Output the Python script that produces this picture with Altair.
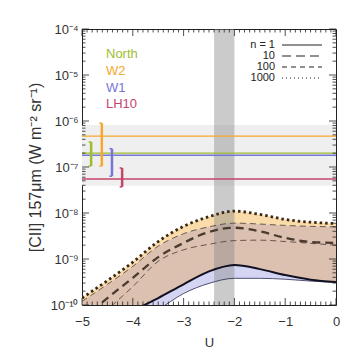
import altair as alt
import pandas as pd

# ---------------- data ----------------
U = [-5.0, -4.5, -4.0, -3.5, -3.0, -2.5, -2.0, -1.5, -1.0, -0.5, 0.0]
# log10 of [CII] intensity for model curves
top_dotted = [-9.85, -9.47, -9.07, -8.62, -8.29, -8.08, -7.96, -8.03, -8.14, -8.20, -8.23]
thin_upper = [-9.92, -9.55, -9.16, -8.72, -8.45, -8.30, -8.22, -8.24, -8.27, -8.29, -8.30]
thick_dash = [-10.30, -9.85, -9.41, -8.96, -8.65, -8.41, -8.32, -8.40, -8.54, -8.63, -8.65]
thin_dash = [-10.60, -10.10, -9.60, -9.05, -8.80, -8.68, -8.60, -8.59, -8.62, -8.66, -8.70]
thick_solid = [-10.90, -10.50, -10.13, -9.85, -9.55, -9.27, -9.13, -9.22, -9.35, -9.45, -9.50]
thin_solid = [-11.20, -10.80, -10.40, -10.10, -9.75, -9.53, -9.42, -9.42, -9.44, -9.48, -9.51]

regions = ["North", "W2", "W1", "LH10"]
region_colors = ["#9dbd2e", "#f7a72e", "#7676d6", "#c4456a"]
obs_value = [2.0e-7, 4.7e-7, 1.8e-7, 5.5e-8]
bar_U = [-4.82, -4.61, -4.41, -4.21]
bar_low = [1.05e-7, 1.05e-7, 6.3e-8, 3.7e-8]
bar_high = [3.5e-7, 9.0e-7, 2.5e-7, 9.5e-8]

obs_band = [3.9e-8, 8.2e-7]
U_band = [-2.4, -2.0]

n_labels = ["n = 1", "10", "100", "1000"]

x_major = [-5, -4, -3, -2, -1, 0]
y_major_exp = [-10, -9, -8, -7, -6, -5, -4]

# ---------------- layout ----------------
W, H = 254, 276
FONT = "Liberation Sans"

xs = alt.Scale(domain=[-5, 0], nice=False, zero=False)
ys = alt.Scale(type="log", domain=[1e-10, 1e-4], nice=False)

curves = pd.DataFrame({
    "U": U,
    "top": [10 ** v for v in top_dotted],
    "tu": [10 ** v for v in thin_upper],
    "td": [10 ** v for v in thick_dash],
    "ld": [10 ** v for v in thin_dash],
    "ts": [10 ** v for v in thick_solid],
    "ls": [10 ** v for v in thin_solid],
})

base = alt.Chart(curves)
X = alt.X("U:Q", scale=xs, axis=alt.Axis(
    values=x_major, ticks=False, tickSize=0, domain=False, grid=False, labelFlush=False,
    labelFont=FONT, labelFontSize=13, labelColor="#333", labelPadding=10,
    labelExpr="datum.value == 0 ? '0' : '\u2212' + abs(datum.value)",
    title="U", titleFont=FONT, titleFontSize=13, titleFontWeight="normal",
    titleColor="#333", titlePadding=8))
Y_axis = alt.Axis(
    values=[10.0 ** e for e in y_major_exp], ticks=False, tickSize=0, domain=False, grid=False,
    labelFlush=False,
    labelFont=FONT, labelFontSize=13, labelColor="#333", labelPadding=4,
    labelExpr="'10' + replace(replace(replace(replace(replace(replace(replace(replace('-' + format(-round(log(datum.value)/LN10), 'd'), '-', '\u207b'), '10', '\u00b9\u2070'), '4', '\u2074'), '5', '\u2075'), '6', '\u2076'), '7', '\u2077'), '8', '\u2078'), '9', '\u2079')",
    title="[CII] 157\u03bcm (W m\u207b\u00b2 sr\u207b\u00b9)", titleFont=FONT, titleFontSize=16,
    titleFontWeight="normal", titleColor="#333", titlePadding=7)

# background horizontal band
hband = alt.Chart(pd.DataFrame({"lo": [obs_band[0]], "hi": [obs_band[1]]})).mark_rect(
    color="#efefef").encode(x=alt.value(0), x2=alt.value(W),
                            y=alt.Y("hi:Q", scale=ys, axis=Y_axis), y2="lo:Q")

area_kw = dict(interpolate="monotone", clip=True)
orange = base.mark_area(color="#f9dcaa", **area_kw).encode(
    x=X, y=alt.Y("top:Q", scale=ys), y2="tu:Q")
brown = base.mark_area(color="#dcc0b0", **area_kw).encode(
    x="U:Q", y=alt.Y("tu:Q", scale=ys), y2="ts:Q")
blue = base.mark_area(color="#d3d5f2", **area_kw).encode(
    x="U:Q", y=alt.Y("ts:Q", scale=ys), y2="ls:Q")

vband = alt.Chart(pd.DataFrame({"a": [U_band[0]], "b": [U_band[1]]})).mark_rect(
    color="#8c8c8c", opacity=0.45).encode(
    x=alt.X("a:Q", scale=xs), x2="b:Q", y=alt.value(0), y2=alt.value(H))

def line(field, color, width, dash=None):
    kw = dict(color=color, strokeWidth=width, interpolate="monotone", clip=True)
    if dash:
        kw["strokeDash"] = dash
    return base.mark_line(**kw).encode(x="U:Q", y=alt.Y(f"{field}:Q", scale=ys))

lines = [
    line("ls", "#2a2a50", 0.8),
    line("ts", "#111122", 2.0),
    line("ld", "#4a3a30", 0.8, [6, 4]),
    line("td", "#4a3a30", 2.3, [8, 5]),
    line("tu", "#4a3a30", 0.8, [6, 4]),
    line("top", "#3a2810", 2.8, [2.5, 3]),
]

obs = pd.DataFrame({"region": regions, "val": obs_value, "U": bar_U,
                    "lo": bar_low, "hi": bar_high, "color": region_colors})
hlines = alt.Chart(obs).mark_rule(strokeWidth=1.4).encode(
    y=alt.Y("val:Q", scale=ys), color=alt.Color("color:N", scale=None))
bars = alt.Chart(obs).mark_rule(strokeWidth=2.5).encode(
    x=alt.X("U:Q", scale=xs), y=alt.Y("hi:Q", scale=ys), y2="lo:Q",
    color=alt.Color("color:N", scale=None))
caps_hi = alt.Chart(obs).mark_rule(strokeWidth=1.5, x2Offset=-2.5).encode(
    x=alt.X("U:Q", scale=xs), x2="U:Q", y=alt.Y("hi:Q", scale=ys),
    color=alt.Color("color:N", scale=None))
caps_lo = alt.Chart(obs).mark_rule(strokeWidth=1.5, x2Offset=-2.5).encode(
    x=alt.X("U:Q", scale=xs), x2="U:Q", y=alt.Y("lo:Q", scale=ys),
    color=alt.Color("color:N", scale=None))

# region legend (top-left)
leg_layers = []
for i, (r, c) in enumerate(zip(regions, region_colors)):
    leg_layers.append(alt.Chart(pd.DataFrame({"t": [r]})).mark_text(
        align="left", baseline="middle", font=FONT, fontSize=13, color=c).encode(
        text="t:N", x=alt.value(24), y=alt.value(25 + 16.8 * i)))

# n legend (top-right)
dashes = [None, [9, 5], [5, 4], [1, 3]]
for i, (lab, d) in enumerate(zip(n_labels, dashes)):
    yy = 16 + 11 * i
    leg_layers.append(alt.Chart(pd.DataFrame({"t": [lab]})).mark_text(
        align="right", baseline="middle", font=FONT, fontSize=11, color="#222").encode(
        text="t:N", x=alt.value(193), y=alt.value(yy)))
    kw = dict(color="#222", strokeWidth=1.2)
    if d:
        kw["strokeDash"] = d
    leg_layers.append(alt.Chart(pd.DataFrame({"t": [lab]})).mark_rule(**kw).encode(
        x=alt.value(200), x2=alt.value(240), y=alt.value(yy)))

# inward tick marks on all four sides
x_minor = [round(-5 + 0.1 * i, 1) for i in range(51) if i % 10 != 0]
y_minor = [m * 10.0 ** e for e in range(-10, -4) for m in range(2, 10)]
y_maj_vals = [10.0 ** e for e in y_major_exp]

def xticks(vals, ln):
    d = pd.DataFrame({"v": vals})
    b = alt.Chart(d).mark_rule(color="#222", strokeWidth=0.8)
    return [b.encode(x=alt.X("v:Q", scale=xs), y=alt.value(H), y2=alt.value(H - ln)),
            b.encode(x=alt.X("v:Q", scale=xs), y=alt.value(0), y2=alt.value(ln))]

def yticks(vals, ln):
    d = pd.DataFrame({"v": vals})
    b = alt.Chart(d).mark_rule(color="#222", strokeWidth=0.8)
    return [b.encode(y=alt.Y("v:Q", scale=ys), x=alt.value(0), x2=alt.value(ln)),
            b.encode(y=alt.Y("v:Q", scale=ys), x=alt.value(W), x2=alt.value(W - ln))]

ticks = xticks(x_minor, 3.5) + xticks(x_major, 7) + yticks(y_minor, 3.5) + yticks(y_maj_vals, 7)

chart = alt.layer(
    hband, orange, brown, blue, vband, *lines, hlines, bars, caps_hi, caps_lo,
    *leg_layers, *ticks
).properties(
    width=W, height=H, autosize="none",
    padding={"left": 74, "top": 21, "right": 17, "bottom": 48},
).configure_view(stroke="#222", strokeWidth=1)

chart.save("out.html", embed_options={"renderer": "svg", "actions": False})
